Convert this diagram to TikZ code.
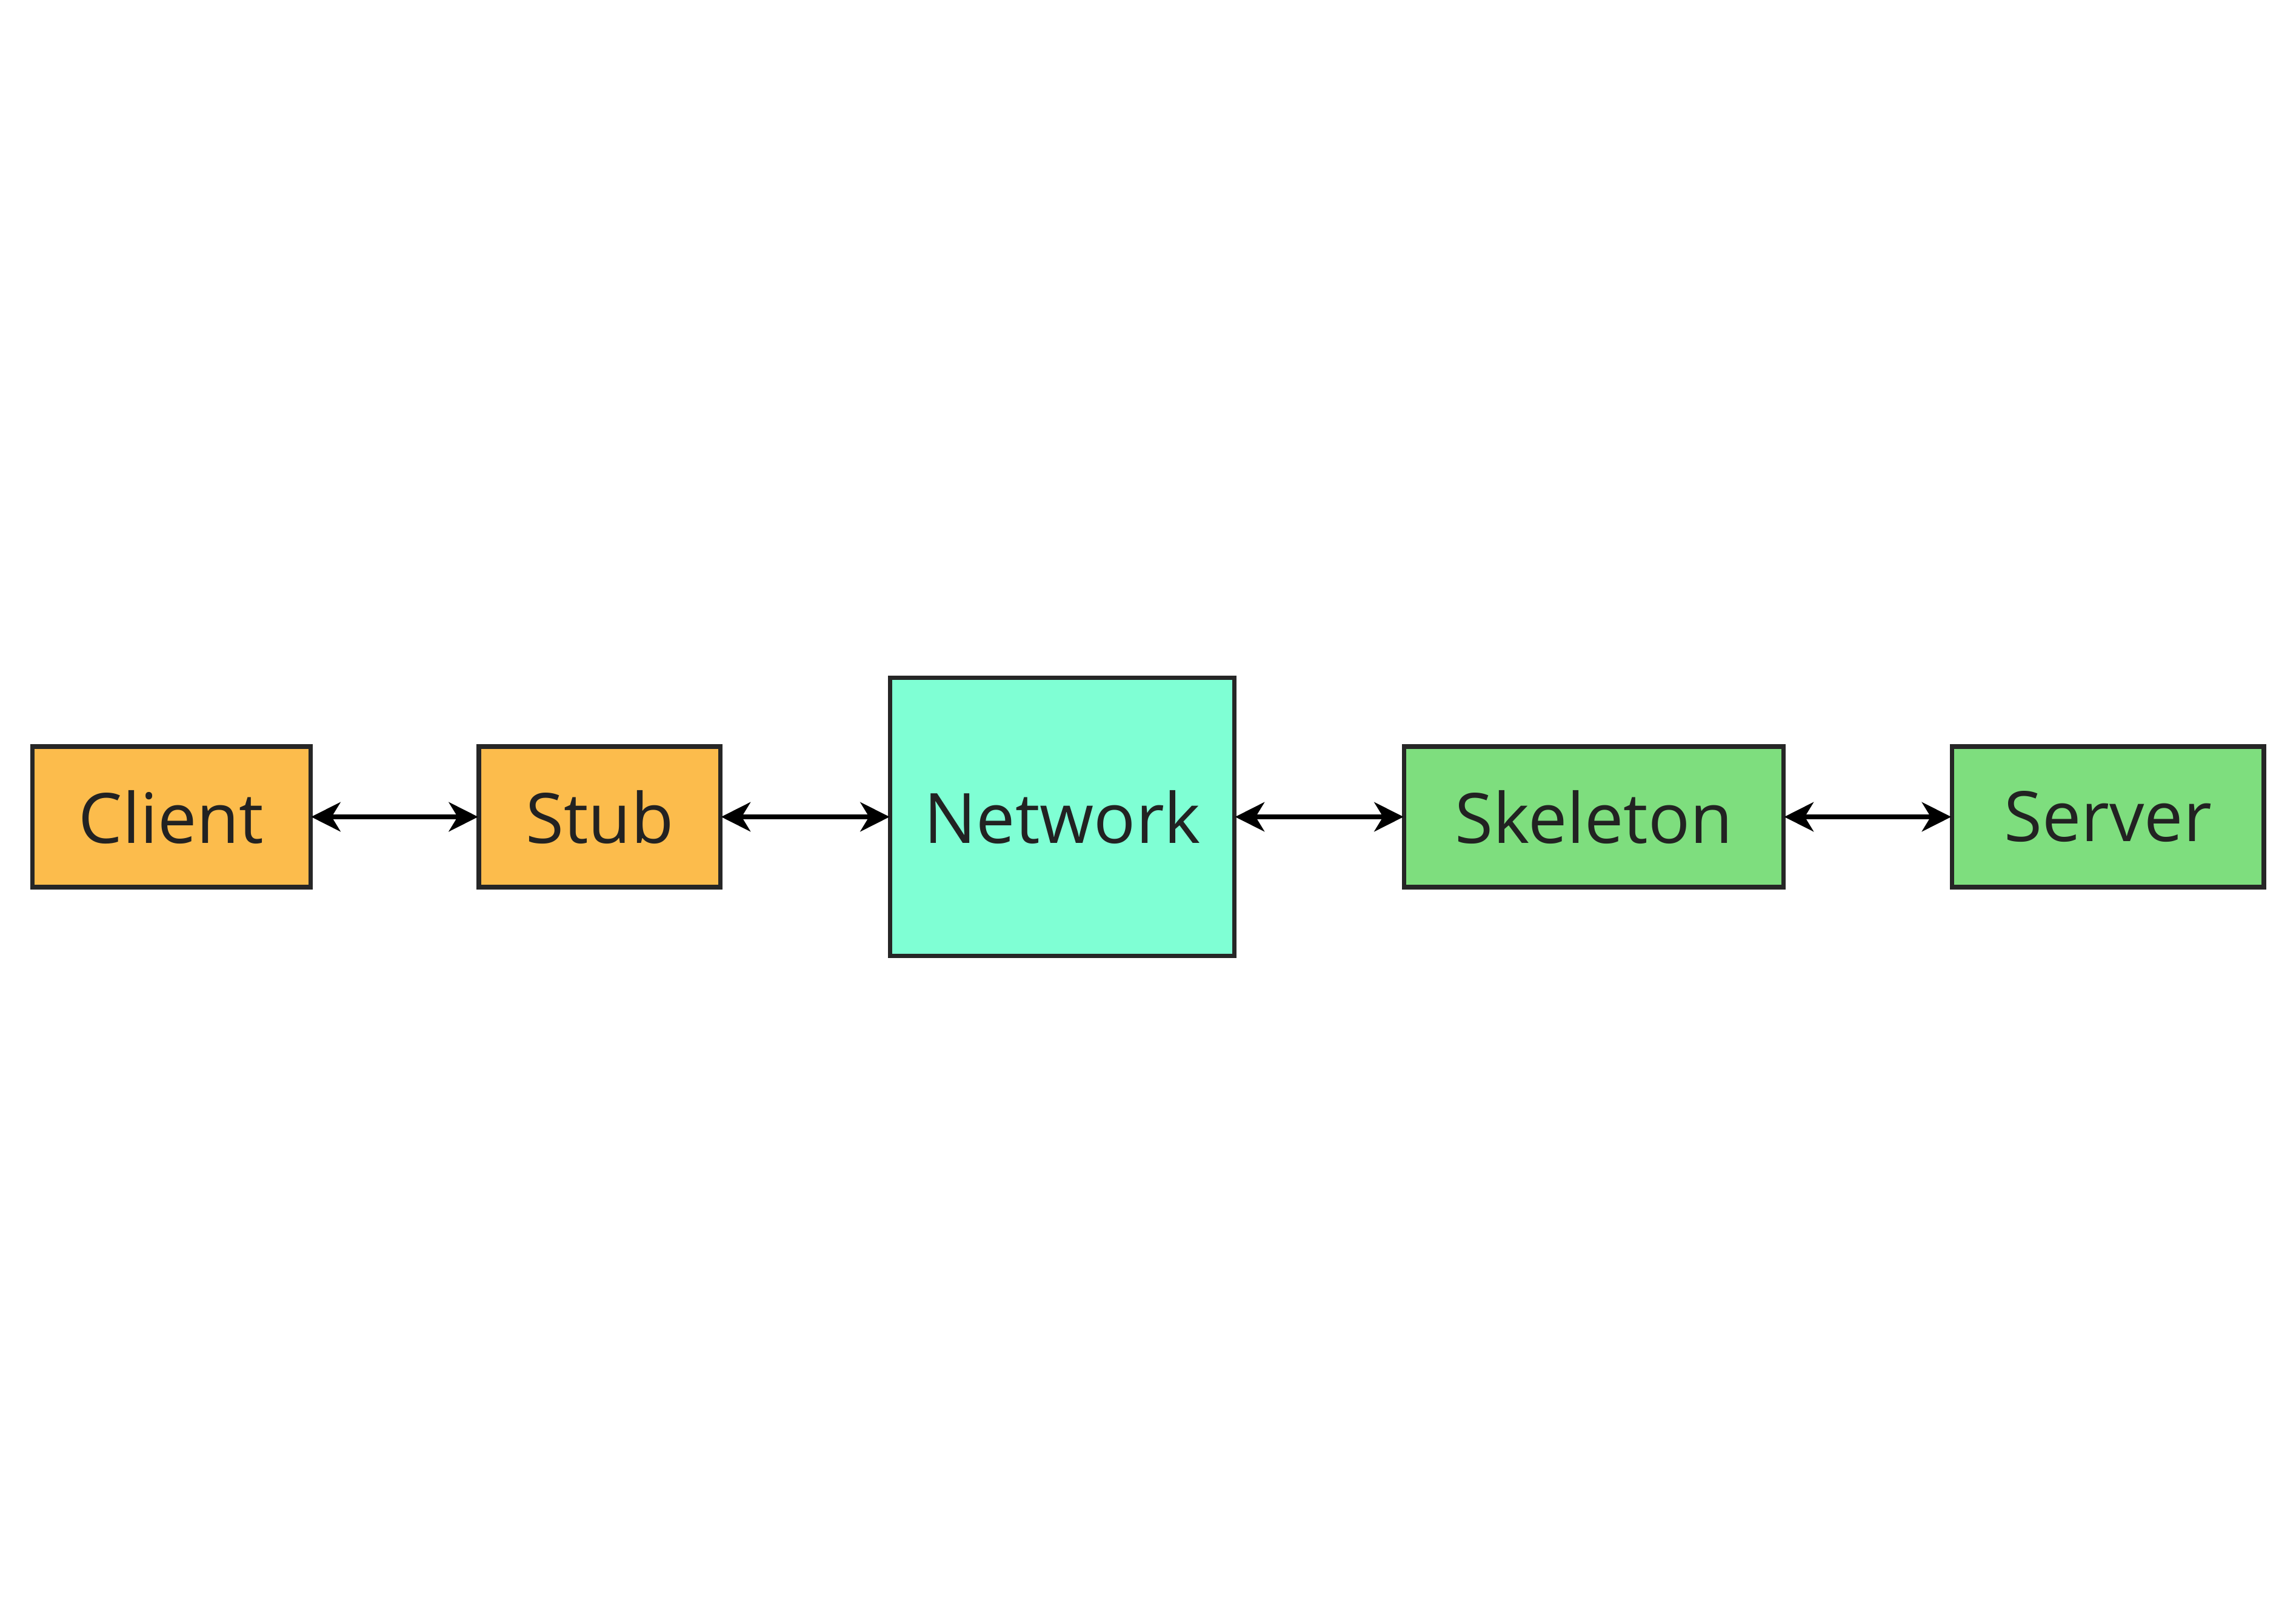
\documentclass[tikz,border=0pt]{standalone}
\usepackage{fontspec}
\setmainfont{Open Sans}
\usetikzlibrary{arrows.meta}

\definecolor{stuborange}{RGB}{252,188,76}
\definecolor{netaqua}{RGB}{127,255,212}
\definecolor{skelgreen}{RGB}{126,222,126}
\definecolor{labelgray}{RGB}{34,34,34}

\tikzset{
    block/.style={rectangle, draw=black!85, line width=0.03cm, inner sep=0pt,
        minimum height=0.96cm, text=labelgray, font=\fontsize{13.5}{16}\selectfont},
    clientside/.style={block, fill=stuborange},
    netblock/.style={block, fill=netaqua, minimum height=1.90cm},
    serverside/.style={block, fill=skelgreen},
    link/.style={line width=0.03cm, black, shorten <=-0.01cm, shorten >=-0.01cm,
        {Stealth[length=0.2cm, width=0.2cm, inset=0.06cm]}-{Stealth[length=0.2cm, width=0.2cm, inset=0.06cm]}}
}

\begin{document}
\begin{tikzpicture}
\useasboundingbox (0,0) rectangle (15.68,-11.09);

% ===== client side =====
\node[clientside, minimum width=1.90cm] (client) at (1.17,-5.58) {Client};
\node[clientside, minimum width=1.65cm] (stub)   at (4.095,-5.58) {Stub};

% ===== network =====
\node[netblock, minimum width=2.35cm] (network) at (7.255,-5.58) {Network};

% ===== server side =====
\node[serverside, minimum width=2.59cm] (skeleton) at (10.885,-5.58) {Skeleton};
\node[serverside, minimum width=2.13cm] (server)   at (14.395,-5.58) {Server};

\draw[link] (client) -- (stub);
\draw[link] (stub) -- (network);
\draw[link] (network) -- (skeleton);
\draw[link] (skeleton) -- (server);

\end{tikzpicture}
\end{document}
